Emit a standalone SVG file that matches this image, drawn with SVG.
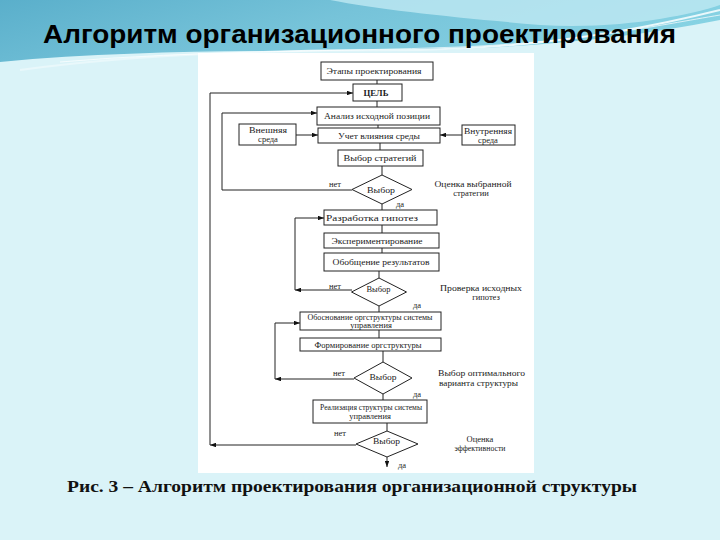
<svg xmlns="http://www.w3.org/2000/svg" width="720" height="540" viewBox="0 0 720 540">
<defs>
<linearGradient id="bg" x1="0" y1="0" x2="1" y2="0.3">
<stop offset="0" stop-color="#5aafcb"/>
<stop offset="0.5" stop-color="#76c3d9"/>
<stop offset="1" stop-color="#86d2e3"/>
</linearGradient>
<marker id="ar" viewBox="0 0 8 6" refX="8" refY="3" markerWidth="6" markerHeight="4.5" orient="auto" markerUnits="userSpaceOnUse">
<path d="M0,0 L8,3 L0,6 Z" fill="#111"/>
</marker>
<style>
.bx{fill:#fff;stroke:#222;stroke-width:1}
.ln{fill:none;stroke:#222;stroke-width:1}
.t{font-family:"Liberation Serif","Times New Roman",serif;font-size:8.5px;fill:#222;text-anchor:middle}
.tl{font-family:"Liberation Serif","Times New Roman",serif;font-size:8.5px;fill:#222}
</style>
</defs>
<rect width="720" height="540" fill="#daf3f8"/>
<path d="M0,0 H720 V20 C620,40 520,48 420,50 C300,52 150,48 0,62 Z" fill="url(#bg)"/>
<path d="M330,0 C380,10 460,18 540,25 C620,30 690,15 720,5 V0 Z" fill="#bfe8f2" opacity="0.8"/>
<path d="M20,70 C150,52 300,50 420,50 C540,48 640,30 720,10" fill="none" stroke="#e9f8fb" stroke-width="2"/>
<path d="M60,62 C200,50 330,52 460,47 C580,42 660,25 720,15" fill="none" stroke="#ffffff" stroke-width="1" opacity="0.7"/>
<text x="43" y="43" font-family="Liberation Sans, Arial, sans-serif" font-size="26" font-weight="bold" fill="#000" textLength="633" lengthAdjust="spacingAndGlyphs">Алгоритм организационного проектирования</text>
<rect x="198" y="53" width="336" height="420" fill="#fff"/>

<g id="connectors">
<line class="ln" x1="377" y1="80" x2="377" y2="84"/>
<line class="ln" x1="377" y1="101" x2="377" y2="107"/>
<line class="ln" x1="378" y1="125" x2="378" y2="128"/>
<line class="ln" x1="380" y1="143" x2="380" y2="150"/>
<line class="ln" x1="382" y1="166" x2="382" y2="175"/>
<line class="ln" x1="296" y1="135" x2="318" y2="135" marker-end="url(#ar)"/>
<line class="ln" x1="462" y1="135" x2="440" y2="135" marker-end="url(#ar)"/>
<polyline class="ln" points="352,190 222,190 222,113 317,113" marker-end="url(#ar)"/>
<line class="ln" x1="382" y1="204" x2="382" y2="210"/>
<line class="ln" x1="382" y1="225" x2="382" y2="233"/>
<line class="ln" x1="382" y1="248" x2="382" y2="253"/>
<line class="ln" x1="379" y1="271" x2="379" y2="278"/>
<line class="ln" x1="352" y1="290" x2="295" y2="290" marker-end="url(#ar)"/>
<polyline class="ln" points="295,290 295,218 324,218" marker-end="url(#ar)"/>
<line class="ln" x1="379" y1="306" x2="379" y2="312"/>
<line class="ln" x1="379" y1="330" x2="379" y2="338"/>
<line class="ln" x1="383" y1="351" x2="383" y2="362"/>
<line class="ln" x1="354" y1="379" x2="275" y2="379" marker-end="url(#ar)"/>
<polyline class="ln" points="275,379 275,323 300,323" marker-end="url(#ar)"/>
<line class="ln" x1="383" y1="394" x2="383" y2="400"/>
<line class="ln" x1="387" y1="423" x2="387" y2="431"/>
<line class="ln" x1="356" y1="445" x2="210" y2="445" marker-end="url(#ar)"/>
<polyline class="ln" points="210,445 210,93 353,93" marker-end="url(#ar)"/>
<line class="ln" x1="387" y1="457" x2="387" y2="467" marker-end="url(#ar)"/>
</g>

<g id="n-etapy"><rect class="bx" x="321" y="62" width="112" height="18"/><text class="t" x="374" y="74" textLength="95" lengthAdjust="spacingAndGlyphs">Этапы проектирования</text></g>
<g id="n-cel"><rect class="bx" x="353" y="84" width="49" height="17"/><text class="t" x="376" y="95.5" font-weight="bold" textLength="25" lengthAdjust="spacingAndGlyphs">ЦЕЛЬ</text></g>
<g id="n-analiz"><rect class="bx" x="317" y="107" width="123" height="18"/><text class="t" x="377" y="119" textLength="106" lengthAdjust="spacingAndGlyphs">Анализ исходной позиции</text></g>
<g id="n-vnesh"><rect class="bx" x="239" y="124" width="57" height="21"/><text class="t" x="268" y="133" textLength="38" lengthAdjust="spacingAndGlyphs">Внешняя</text><text class="t" x="268" y="142">среда</text></g>
<g id="n-uchet"><rect class="bx" x="318" y="128" width="122" height="15"/><text class="t" x="379" y="138.5" textLength="82" lengthAdjust="spacingAndGlyphs">Учет влияния среды</text></g>
<g id="n-vnutr"><rect class="bx" x="462" y="125" width="53" height="20"/><text class="t" x="488" y="134" textLength="48" lengthAdjust="spacingAndGlyphs">Внутренняя</text><text class="t" x="488" y="143">среда</text></g>
<g id="n-vybstrat"><rect class="bx" x="338" y="150" width="85" height="16"/><text class="t" x="380" y="161" textLength="73" lengthAdjust="spacingAndGlyphs">Выбор стратегий</text></g>
<g id="d1"><polygon class="bx" points="382,175 412,189.5 382,204 352,189.5"/><text class="t" x="381" y="192.5" textLength="28" lengthAdjust="spacingAndGlyphs">Выбор</text></g>
<g id="n-razrab"><rect class="bx" x="324" y="210" width="113" height="15"/><text class="t" x="372" y="220.5" textLength="92" lengthAdjust="spacingAndGlyphs">Разработка гипотез</text></g>
<g id="n-eksp"><rect class="bx" x="324" y="233" width="115" height="15"/><text class="t" x="377" y="243.5" textLength="91" lengthAdjust="spacingAndGlyphs">Экспериментирование</text></g>
<g id="n-obobsch"><rect class="bx" x="324" y="253" width="115" height="18"/><text class="t" x="381" y="265" textLength="97" lengthAdjust="spacingAndGlyphs">Обобщение результатов</text></g>
<g id="d2"><polygon class="bx" points="379,278 406.5,292 379,306 351.5,292"/><text class="t" x="378.5" y="292" textLength="24" lengthAdjust="spacingAndGlyphs">Выбор</text></g>
<g id="n-obosn"><rect class="bx" x="300" y="312" width="141" height="18"/><text class="t" x="370" y="319.5" textLength="125" lengthAdjust="spacingAndGlyphs">Обоснование оргструктуры системы</text><text class="t" x="371" y="328">управления</text></g>
<g id="n-form"><rect class="bx" x="300" y="338" width="141" height="13"/><text class="t" x="368" y="347.5" textLength="107" lengthAdjust="spacingAndGlyphs">Формирование оргструктуры</text></g>
<g id="d3"><polygon class="bx" points="383,362 412,378 383,394 354,378"/><text class="t" x="383" y="379.5" textLength="27" lengthAdjust="spacingAndGlyphs">Выбор</text></g>
<g id="n-real"><rect class="bx" x="313" y="400" width="114" height="23"/><text class="t" x="371" y="409.5" textLength="102" lengthAdjust="spacingAndGlyphs">Реализация структуры системы</text><text class="t" x="370" y="419">управления</text></g>
<g id="d4"><polygon class="bx" points="387,431 418,444 387,457 356,444"/><text class="t" x="386.5" y="444" textLength="27" lengthAdjust="spacingAndGlyphs">Выбор</text></g>

<g id="labels">
<text class="t" x="335" y="186.5">нет</text>
<text class="t" x="400" y="206.5">да</text>
<text class="t" x="473" y="187" textLength="77" lengthAdjust="spacingAndGlyphs">Оценка выбранной</text>
<text class="t" x="471" y="196">стратегии</text>
<text class="t" x="335" y="288.5">нет</text>
<text class="t" x="417" y="307.5">да</text>
<text class="t" x="481" y="291" textLength="82" lengthAdjust="spacingAndGlyphs">Проверка исходных</text>
<text class="t" x="486" y="300">гипотез</text>
<text class="t" x="339" y="375.5">нет</text>
<text class="t" x="417" y="396.5">да</text>
<text class="tl" x="438" y="375.5" textLength="87" lengthAdjust="spacingAndGlyphs">Выбор оптимального</text>
<text class="tl" x="439" y="385.5" textLength="79" lengthAdjust="spacingAndGlyphs">варианта структуры</text>
<text class="t" x="340" y="435.5">нет</text>
<text class="t" x="480" y="442">Оценка</text>
<text class="t" x="480" y="451" textLength="51" lengthAdjust="spacingAndGlyphs">эффективности</text>
<text class="t" x="402" y="467.5">да</text>
</g>

<text x="67" y="492" font-family="Liberation Serif, Times New Roman, serif" font-size="16" font-weight="bold" fill="#111" textLength="570" lengthAdjust="spacingAndGlyphs">Рис. 3 – Алгоритм проектирования организационной структуры</text>
</svg>
